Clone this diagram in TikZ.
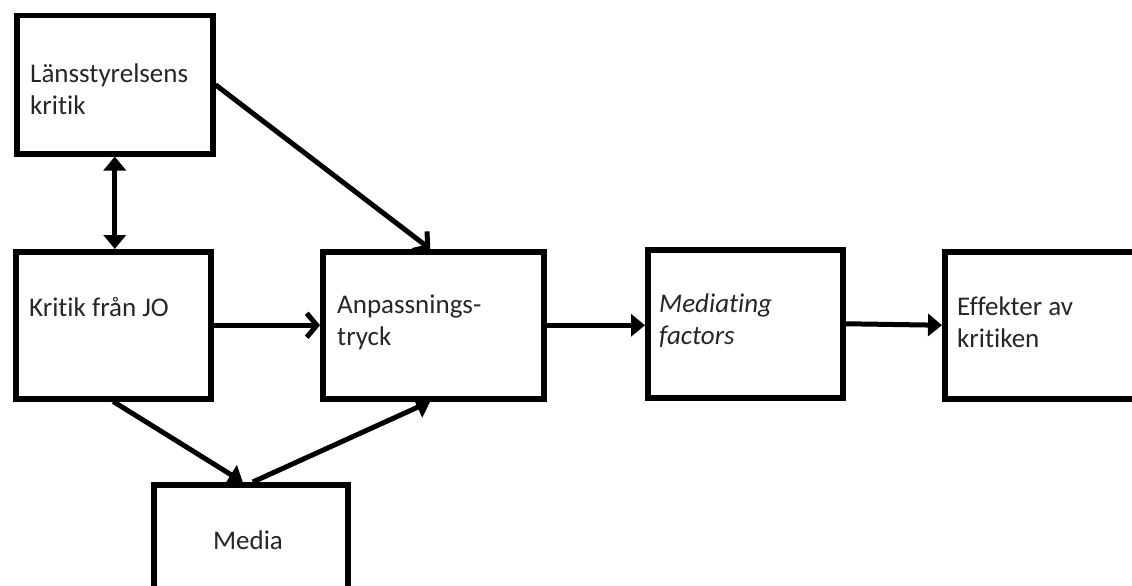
\documentclass[tikz,border=0pt]{standalone}
\usepackage{fontspec}
\setmainfont{Carlito}[Ligatures=NoCommon]
\usetikzlibrary{arrows.meta,calc}
\begin{document}
\begin{tikzpicture}[x=1pt,y=-1pt,
  box/.style={draw,line width=5.5pt,rectangle,inner sep=0pt,anchor=north west},
  lbl/.style={anchor=west,inner sep=0pt,font=\fontsize{27}{32}\selectfont,text=black!85,align=left},
  conn/.style={line width=5pt},
  filled/.style={conn,-{Triangle[length=14pt,width=22pt]}},
  both/.style={conn,{Triangle[length=14pt,width=22pt]}-{Triangle[length=14pt,width=22pt]}},
  open/.style={conn,-{Straight Barb[length=10pt,width=24pt]}}]
\useasboundingbox (0,0) rectangle (1132,586);
\clip (0,0) rectangle (1132,586);
% boxes
\node[box,minimum width=196pt,minimum height=138pt] (lans) at (14,13) {};
\node[box,minimum width=195pt,minimum height=147pt] (jo) at (13,249) {};
\node[box,minimum width=221pt,minimum height=147pt] (anp) at (320,249) {};
\node[box,minimum width=195pt,minimum height=148pt] (med) at (645,247) {};
\node[box,minimum width=220pt,minimum height=147pt] (eff) at (942,249) {};
\node[box,minimum width=194pt,minimum height=140pt] (media) at (151,482) {};
% labels
\node[lbl] (lanst) at (30,89) {Länsstyrelsens\\kritik};
\node[lbl] (jot) at (29,307) {Kritik från JO};
\node[lbl] (anpt) at (337,322) {Anpassnings-\\tryck};
\node[lbl,font=\fontsize{27}{32}\selectfont\itshape] (medt) at (659,321) {Mediating\\factors};
\node[lbl] (efft) at (957,322) {Effekter av\\kritiken};
\node[lbl,anchor=center] (mediat) at (248,540) {Media};
% connectors
\draw[both] (lans.south) -- (lans.south |- jo.north);
\draw[open] (lans.east) -- ($(anp.north)+(-3,0)$);
\draw[open] (jo.east) -- (jo.east -| anp.west);
\draw[filled] (anp.east) -- (anp.east -| med.west);
\draw[filled] (med.east) -- (eff.west);
\draw[filled] (jo.south) -- ($(media.north)+(-8,0)$);
\draw[filled] ($(media.north)+(2,0)$) -- ($(anp.south)+(-3,0)$);
\end{tikzpicture}
\end{document}
